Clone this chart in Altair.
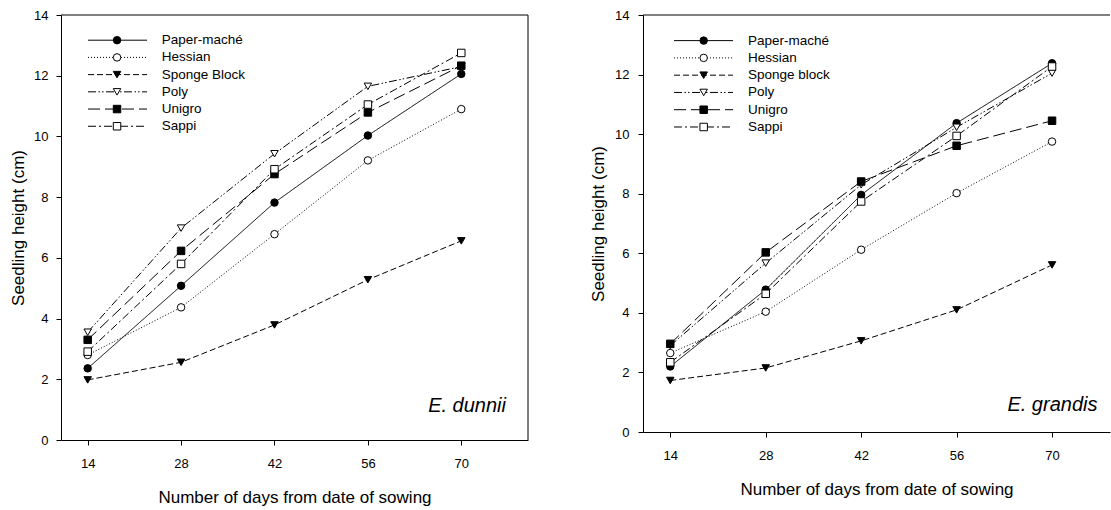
import altair as alt
import pandas as pd

# ---------------- data ----------------
days = [14, 28, 42, 56, 70]

series_dunnii = ["Paper-maché", "Hessian", "Sponge Block", "Poly", "Unigro", "Sappi"]
series_grandis = ["Paper-maché", "Hessian", "Sponge block", "Poly", "Unigro", "Sappi"]

# E. dunnii
dunnii_paper = [2.36, 5.08, 7.82, 10.03, 12.06]
dunnii_hessian = [2.80, 4.37, 6.78, 9.21, 10.90]
dunnii_sponge = [1.98, 2.56, 3.79, 5.28, 6.56]
dunnii_poly = [3.55, 6.98, 9.43, 11.65, 12.30]
dunnii_unigro = [3.30, 6.23, 8.76, 10.79, 12.33]
dunnii_sappi = [2.91, 5.80, 8.92, 11.05, 12.75]

# E. grandis
grandis_paper = [2.20, 4.78, 7.96, 10.37, 12.38]
grandis_hessian = [2.65, 4.04, 6.12, 8.02, 9.75]
grandis_sponge = [1.73, 2.15, 3.06, 4.10, 5.61]
grandis_poly = [2.90, 5.67, 8.30, 10.23, 12.05]
grandis_unigro = [2.96, 6.03, 8.41, 9.61, 10.45]
grandis_sappi = [2.34, 4.64, 7.74, 9.94, 12.27]

x_ticks = [14, 28, 42, 56, 70]
y_ticks = [0, 2, 4, 6, 8, 10, 12, 14]

# ---------------- styles ----------------
series_idx = [0, 1, 2, 3, 4, 5]
dashes = [[1, 0], [1, 2], [6, 3], [8, 2.5, 1.5, 2, 1.5, 2.5], [12, 5], [8, 3, 2, 3]]
shapes = ["circle", "circle", "triangle-down", "triangle-down", "square", "square"]
fills = ["black", "white", "black", "white", "black", "white"]
FONT = "Liberation Sans"


def long_df(series, cols):
    rows = []
    for i, (name, vals) in enumerate(zip(series, cols)):
        for d, v in zip(days, vals):
            rows.append({"series": name, "idx": i, "day": d, "height": v})
    return pd.DataFrame(rows)


def panel(series, cols, species, width, height, x_max, ytitle_x, ylabel_pad,
          leg_top, leg_step, leg_x1, leg_x2, leg_xm, leg_xt, sp_x, sp_y, boxed):
    df = long_df(series, cols)
    xs = alt.Scale(domain=[10, x_max], nice=False, zero=False)
    ys = alt.Scale(domain=[0, 14], nice=False)
    xaxis = alt.Axis(values=x_ticks, title="Number of days from date of sowing",
                     grid=False, tickSize=5, labelPadding=18, labelBaseline="middle",
                     titleX=width / 2, titleY=57, titleBaseline="middle",
                     labelFontSize=13, titleFontSize=17, labelFlush=False)
    yaxis = alt.Axis(values=y_ticks, title="Seedling height (cm)", grid=False,
                     tickSize=5, labelPadding=ylabel_pad, titleX=ytitle_x,
                     titleY=height / 2, titleBaseline="middle",
                     labelFontSize=13, titleFontSize=17, format="d")

    def X(f):
        return alt.X(f, type="quantitative", scale=xs, axis=xaxis)

    def Y(f):
        return alt.Y(f, type="quantitative", scale=ys, axis=yaxis)

    dash_enc = alt.StrokeDash("idx:N", scale=alt.Scale(domain=series_idx, range=dashes), legend=None)
    shape_enc = alt.Shape("idx:N", scale=alt.Scale(domain=series_idx, range=shapes), legend=None)
    fill_enc = alt.Fill("idx:N", scale=alt.Scale(domain=series_idx, range=fills), legend=None)

    lines = alt.Chart(df).mark_line(color="black", strokeWidth=1).encode(
        x=X("day"), y=Y("height"), strokeDash=dash_enc, detail="idx:N",
        order="day:Q")
    pts = alt.Chart(df).mark_point(filled=True, stroke="black", strokeWidth=1,
                                   size=56, opacity=1).encode(
        x=X("day"), y=Y("height"), shape=shape_enc, fill=fill_enc,
        order="idx:Q")

    leg = pd.DataFrame({
        "series": series,
        "idx": series_idx,
        "ly": [leg_top - leg_step * i for i in range(len(series))],
        "x1": [leg_x1] * len(series),
        "x2": [leg_x2] * len(series),
        "xm": [leg_xm] * len(series),
        "xt": [leg_xt] * len(series),
    })
    leg_lines = alt.Chart(leg).mark_rule(color="black", strokeWidth=1).encode(
        x=X("x1"), x2="x2:Q", y=Y("ly"), strokeDash=dash_enc)
    leg_pts = alt.Chart(leg).mark_point(filled=True, stroke="black", strokeWidth=1,
                                        size=56, opacity=1).encode(
        x=X("xm"), y=Y("ly"), shape=shape_enc, fill=fill_enc)
    leg_txt = alt.Chart(leg).mark_text(align="left", baseline="middle", fontSize=13.5,
                                       font=FONT, color="black").encode(
        x=X("xt"), y=Y("ly"), text="series:N")

    sp = pd.DataFrame({"x": [sp_x], "y": [sp_y], "t": [species]})
    sp_txt = alt.Chart(sp).mark_text(align="right", baseline="alphabetic", fontSize=20,
                                     fontStyle="italic", font=FONT, color="black").encode(
        x=X("x"), y=Y("y"), text="t:N")

    frame = pd.DataFrame({"a": [0]})
    top = alt.Chart(frame).mark_rule(color="black", strokeWidth=1).encode(
        x=alt.value(0), x2=alt.value(width), y=alt.value(0))
    layers = [lines, pts, leg_lines, leg_pts, leg_txt, sp_txt, top]
    if boxed:
        side = alt.Chart(frame).mark_rule(color="black", strokeWidth=1).encode(
            x=alt.value(width), y=alt.value(0), y2=alt.value(height))
        layers.append(side)
    return alt.layer(*layers).properties(width=width, height=height)


left = panel(series_dunnii,
             [dunnii_paper, dunnii_hessian, dunnii_sponge, dunnii_poly, dunnii_unigro, dunnii_sappi],
             "E. dunnii", 467, 425, 80, -43, 8,
             13.17, 0.567, 14.05, 22.9, 18.4, 25.1, 76.7, 0.93, True)
right = panel(series_grandis,
              [grandis_paper, grandis_hessian, grandis_sponge, grandis_poly, grandis_unigro, grandis_sappi],
              "E. grandis", 467, 417, 78.5, -45, 9,
              13.14, 0.58, 14.55, 23.2, 18.9, 25.4, 76.66, 0.71, False)

chart = alt.hconcat(left, right, spacing=60).properties(
    padding={"left": 9, "top": 9, "right": 0, "bottom": 2}
).configure(font=FONT).configure_view(stroke=None).configure_axis(
    domainColor="black", tickColor="black", labelColor="black", titleColor="black",
    titleFontWeight="normal", labelFont=FONT, titleFont=FONT, domainWidth=1, tickWidth=1)

chart.save("out.html", embed_options={"renderer": "svg", "actions": False})
